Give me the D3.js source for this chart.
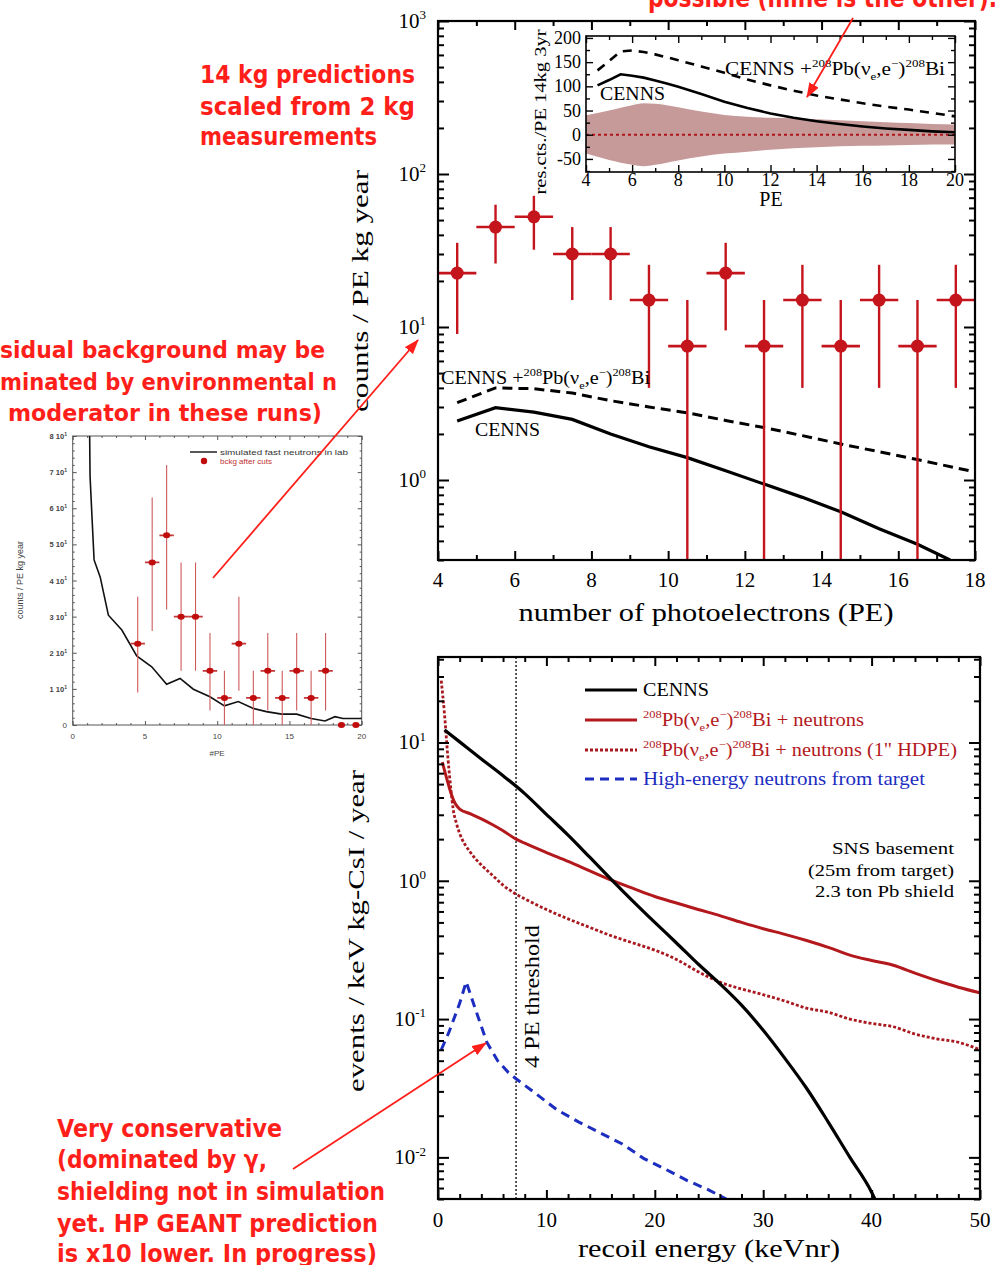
<!DOCTYPE html>
<html><head><meta charset="utf-8">
<script src="https://cdn.jsdelivr.net/npm/d3@7"></script>
<style>body{margin:0;background:#fff} svg{display:block}</style>
</head><body>
<svg id="c" width="1000" height="1265"></svg>
<script>
// ---------------- DATA ----------------
// measured background (2 kg, scaled) — used in main chart and small chart
const bkgPE  = [4.5,5.5,6.5,7.5,8.5,9.5,10.5,11.5,12.5,13.5,14.5,15.5,16.5,17.5];
const bkgVal = [22.5,45,52.5,30,30,15,7.5,22.5,7.5,15,7.5,15,7.5,15];
const bkgLo  = [9,26,32,15,15,4,0,9.5,0,4,0,4,0,4];
const bkgHi  = [35.5,63,72,45,45,25.5,15,35.5,15,25.5,15,25.5,15,25.5];
const bkgZeroPE = [18.6,19.6];
// simulated fast neutrons in lab (small chart)
const simPE  = [1.15,1.2,1.33,1.48,1.9,2.47,3.4,4.43,5.47,6.5,7.43,8.35,9.5,10.5,11.46,12.5,13.4,14.46,15.5,16.5,17.46,18.15,18.7,20];
const simVal = [90,69,58,45.7,41,30.4,26.3,19.1,16.1,11.3,12.9,9.9,7.8,5.3,6.5,4.6,3.7,3.0,3.0,1.8,1.1,2.3,1.8,1.8];
// main chart predictions (counts / PE kg year)
const mainPE    = [4.5,5.5,6.5,7.5,8.5,9.5,10.5,11.5,12.5,13.5,14.5,15.5,16.5,17.35];
const mainCenns = [2.43,2.97,2.78,2.49,2.0,1.65,1.40,1.15,0.94,0.77,0.62,0.48,0.38,0.30];
const mainDashPE = [4.5,5.5,6.5,7.5,8.5,9.5,10.5,11.5,12.5,13.5,14.5,15.5,16.5,17.5,18];
const mainDash   = [3.2,4.0,3.95,3.7,3.3,3.0,2.75,2.45,2.2,1.95,1.72,1.53,1.36,1.2,1.13];
// inset: residual counts / PE 14kg 3yr
const insPE    = [4.5,5,5.5,6,6.5,7,7.5,8,9,10,11,12,13,14,15,16,17,18,19,20];
const insCenns = [102,113,125,122,118,112,106,99,84,68,55,44,35,28,22,17,13,10,7,5];
const insDash  = [133,152,172,174,171,166,160,154,141,128,114,102,91,81,73,65,58,52,45,38];
const bandPE = [4,5,6,6.5,7,8,9,10,11,12,13,14,15,16,17,18,19,20];
const bandHi = [40,50,61,65,64,57,48,41,37,35,34,32,30,28,26,24,22,21];
const bandLo = [-39,-52,-62,-65,-62,-53,-45,-39,-35,-31,-28,-26,-24,-23,-22,-21,-20,-20];
// bottom chart: events / keV kg-CsI / year vs recoil energy
const cennsE = [0.6,2,4,6,8,10,12,14,16,18,20,22,24,26,28,30,32,34,36,38,40,40.3];
const cennsR = [12.3,10.1,7.6,5.75,4.27,3.02,2.14,1.48,1.02,0.71,0.5,0.355,0.25,0.18,0.126,0.083,0.052,0.0316,0.018,0.010,0.0056,0.005];
const pbE = [0.4,0.8,1.2,1.6,2,3,4,5,6,7.2,8,10,12,14,16,18,20,22,24,26,28,30,32,34,36,38,40,42,44,46,48,50];
const pbR = [7.2,5.5,4.3,3.6,3.3,3.05,2.8,2.55,2.3,2.0,1.87,1.6,1.38,1.18,1.01,0.88,0.77,0.69,0.62,0.56,0.5,0.45,0.41,0.37,0.33,0.29,0.265,0.245,0.215,0.19,0.17,0.155];
const hdpeE = [0.3,0.6,0.9,1.2,1.4,1.7,2,3,4,5,6,7.2,8,10,12,14,16,18,20,22,24,26,28,30,32,34,36,38,40,42,44,46,48,50];
const hdpeR = [28,16,8,4.5,3.3,2.6,2.2,1.6,1.3,1.1,0.93,0.80,0.74,0.62,0.53,0.46,0.40,0.355,0.315,0.27,0.22,0.185,0.165,0.15,0.135,0.12,0.112,0.10,0.093,0.088,0.078,0.072,0.068,0.06];
const hiE = [0.3,1,2,2.6,3.5,4.5,5.5,6.5,7.2,9,11,13,15,17,19,21,23,25,26.6];
const hiR = [0.06,0.08,0.13,0.186,0.115,0.068,0.05,0.041,0.037,0.029,0.022,0.018,0.015,0.0125,0.0098,0.0082,0.0068,0.0058,0.005];
const thresholdE = 7.2;
// tick values
const mainXMajor = [4,6,8,10,12,14,16,18];
const insXMajor = [4,6,8,10,12,14,16,18,20];
const insYMajor = [-50,0,50,100,150,200];
const botXMajor = [0,10,20,30,40,50];
const smallXMajor = [0,5,10,15,20];
const smallYMajor = [0,10,20,30,40,50,60,70,80];

// ---------------- HELPERS ----------------
const SERIF = "'Liberation Serif','Times New Roman',serif";
const SANS = "'Liberation Sans',Arial,sans-serif";
const ANN = "'DejaVu Sans',sans-serif";
const RED = '#ff1f1a';
const svg = d3.select('#c');
svg.append('rect').attr('width',1000).attr('height',1265).attr('fill','#fff');
const defs = svg.append('defs');
defs.append('marker').attr('id','arr').attr('viewBox','0 0 14 10').attr('refX',13).attr('refY',5)
  .attr('markerWidth',15).attr('markerHeight',11).attr('markerUnits','userSpaceOnUse').attr('orient','auto')
  .append('path').attr('d','M0,0L14,5L0,10Z').attr('fill',RED);

function rich(parent, x, y, parts, size, attrs={}, fam=SERIF) {
  const t = parent.append('text').attr('x',x).attr('y',y).attr('font-size',size).attr('font-family',fam);
  Object.entries(attrs).forEach(([k,v])=>t.attr(k,v));
  let cur = 0;
  parts.forEach(p=>{
    const [s,k] = Array.isArray(p)?p:[p,null];
    const target = k==='sup' ? -0.42*size : k==='sub' ? 0.3*size : 0;
    t.append('tspan').attr('dy', target-cur).attr('font-size', k ? Math.round(size*0.62) : size).text(s);
    cur = target;
  });
  return t;
}
function ticksOn(g, scale, orient, pos, values, len, sw, color='#000') {
  const f = {bottom:d3.axisBottom, top:d3.axisTop, left:d3.axisLeft, right:d3.axisRight}[orient];
  const ax = f(scale).tickValues(values).tickSize(-len).tickFormat('');
  const tr = (orient==='bottom'||orient==='top') ? `translate(0,${pos})` : `translate(${pos},0)`;
  const a = g.append('g').attr('transform',tr).call(ax);
  a.select('.domain').remove();
  a.selectAll('line').attr('stroke',color).attr('stroke-width',sw);
  return a;
}
function logMinor(dom){const o=[];for(let e=Math.floor(Math.log10(dom[0]));e<=Math.ceil(Math.log10(dom[1]));e++)for(let k=2;k<=9;k++){const v=k*Math.pow(10,e);if(v>=dom[0]*0.999&&v<=dom[1]*1.001)o.push(v);}return o;}
function logMajor(dom){const o=[];for(let e=Math.ceil(Math.log10(dom[0])-1e-9);e<=Math.floor(Math.log10(dom[1])+1e-9);e++)o.push(Math.pow(10,e));return o;}
function range(a,b,s){return d3.range(a,b+s/2,s);}
function clip(id,x,y,w,h){defs.append('clipPath').attr('id',id).append('rect').attr('x',x).attr('y',y).attr('width',w).attr('height',h);}

// ---------------- MAIN CHART (top right) ----------------
const M = {l:438, r:975, t:21, b:560};
const mx = d3.scaleLinear().domain([4,18]).range([M.l,M.r]);
const myDom = [0.3,1000];
const my = d3.scaleLog().domain(myDom).range([M.b,M.t]).clamp(true);
clip('cm', M.l, M.t, M.r-M.l, M.b-M.t);
const gm = svg.append('g');
const pm = gm.append('g').attr('clip-path','url(#cm)');
pm.append('path').attr('d', d3.line().x((d,i)=>mx(mainDashPE[i])).y(d=>my(d))(mainDash))
  .attr('fill','none').attr('stroke','#000').attr('stroke-width',3).attr('stroke-dasharray','10,6');
pm.append('path').attr('d', d3.line().x((d,i)=>mx(mainPE[i])).y(d=>my(d))(mainCenns))
  .attr('fill','none').attr('stroke','#000').attr('stroke-width',3.2);
const DR = '#c4141c';
pm.selectAll('line.v').data(bkgPE).join('line').attr('x1',d=>mx(d)).attr('x2',d=>mx(d))
  .attr('y1',(d,i)=>my(bkgHi[i])).attr('y2',(d,i)=>my(Math.max(bkgLo[i],0.01))).attr('stroke',DR).attr('stroke-width',2.4);
pm.selectAll('line.h').data(bkgPE).join('line').attr('x1',d=>mx(d-0.5)).attr('x2',d=>mx(d+0.5))
  .attr('y1',(d,i)=>my(bkgVal[i])).attr('y2',(d,i)=>my(bkgVal[i])).attr('stroke',DR).attr('stroke-width',2.6);
pm.selectAll('circle').data(bkgPE).join('circle').attr('cx',d=>mx(d)).attr('cy',(d,i)=>my(bkgVal[i])).attr('r',6.5).attr('fill',DR);
// frame & ticks
gm.append('rect').attr('x',M.l).attr('y',M.t).attr('width',M.r-M.l).attr('height',M.b-M.t).attr('fill','none').attr('stroke','#000').attr('stroke-width',2.2);
const mxMinor = range(5,17,2);
ticksOn(gm,mx,'bottom',M.b,mainXMajor,9,2); ticksOn(gm,mx,'bottom',M.b,mxMinor,5,2);
ticksOn(gm,mx,'top',M.t,mainXMajor,9,2); ticksOn(gm,mx,'top',M.t,mxMinor,5,2);
ticksOn(gm,my,'left',M.l,logMajor(myDom),11,2); ticksOn(gm,my,'left',M.l,logMinor(myDom),6,2);
ticksOn(gm,my,'right',M.r,logMajor(myDom),11,2); ticksOn(gm,my,'right',M.r,logMinor(myDom),6,2);
mainXMajor.forEach(v=>gm.append('text').attr('x',mx(v)).attr('y',587).attr('text-anchor','middle').attr('font-family',SERIF).attr('font-size',21).text(v));
logMajor(myDom).forEach(v=>rich(gm,426,my(v)+7,['10',[String(Math.round(Math.log10(v))),'sup']],21,{'text-anchor':'end'}));
gm.append('text').attr('x',706).attr('y',621).attr('text-anchor','middle').attr('font-family',SERIF).attr('font-size',25).attr('textLength',375).attr('lengthAdjust','spacingAndGlyphs').text('number of photoelectrons (PE)');
gm.append('text').attr('transform','translate(368,291) rotate(-90)').attr('text-anchor','middle').attr('font-family',SERIF).attr('font-size',24).attr('textLength',242).attr('lengthAdjust','spacingAndGlyphs').text('counts / PE kg year');
const PB = ['Pb(ν',['e','sub'],',e',['−','sup'],')',['208','sup'],'Bi'];
rich(gm,441,384,['CENNS +',['208','sup'],...PB],18,{textLength:209,lengthAdjust:'spacingAndGlyphs'});
rich(gm,475,436,['CENNS'],18,{textLength:65,lengthAdjust:'spacingAndGlyphs'});

// ---------------- INSET ----------------
const I = {l:586, r:955, t:36, b:172};
const ix = d3.scaleLinear().domain([4,20]).range([I.l,I.r]);
const iy = d3.scaleLinear().domain([-77,204]).range([I.b,I.t]);
clip('ci', I.l, I.t, I.r-I.l, I.b-I.t);
const gi = svg.append('g');
gi.append('rect').attr('x',I.l).attr('y',I.t).attr('width',I.r-I.l).attr('height',I.b-I.t).attr('fill','#fff');
const pi = gi.append('g').attr('clip-path','url(#ci)');
pi.append('path').attr('d', d3.area().x((d,i)=>ix(bandPE[i])).y0((d,i)=>iy(bandLo[i])).y1(d=>iy(d)).curve(d3.curveMonotoneX)(bandHi))
  .attr('fill','#c79a9a').attr('stroke','none');
pi.append('path').attr('d', d3.line().x(d=>ix(d)).y(()=>iy(0))([4,20]))
  .attr('stroke','#b0141a').attr('stroke-width',2.2).attr('stroke-dasharray','3,3').attr('fill','none');
pi.append('path').attr('d', d3.line().x((d,i)=>ix(insPE[i])).y(d=>iy(d))(insDash))
  .attr('fill','none').attr('stroke','#000').attr('stroke-width',2.6).attr('stroke-dasharray','9,7');
pi.append('path').attr('d', d3.line().x((d,i)=>ix(insPE[i])).y(d=>iy(d))(insCenns))
  .attr('fill','none').attr('stroke','#000').attr('stroke-width',2.6);
gi.append('rect').attr('x',I.l).attr('y',I.t).attr('width',I.r-I.l).attr('height',I.b-I.t).attr('fill','none').attr('stroke','#000').attr('stroke-width',1.6);
const ixMinor = range(5,19,2), iyMinor = [-75,-25,25,75,125,175];
ticksOn(gi,ix,'bottom',I.b,insXMajor,7,1.4); ticksOn(gi,ix,'bottom',I.b,ixMinor,4,1.4);
ticksOn(gi,ix,'top',I.t,insXMajor,7,1.4); ticksOn(gi,ix,'top',I.t,ixMinor,4,1.4);
ticksOn(gi,iy,'left',I.l,insYMajor,7,1.4); ticksOn(gi,iy,'left',I.l,iyMinor,4,1.4);
ticksOn(gi,iy,'right',I.r,insYMajor,7,1.4); ticksOn(gi,iy,'right',I.r,iyMinor,4,1.4);
insXMajor.forEach(v=>gi.append('text').attr('x',ix(v)).attr('y',186).attr('text-anchor','middle').attr('font-family',SERIF).attr('font-size',18).text(v));
insYMajor.forEach(v=>gi.append('text').attr('x',581).attr('y',iy(v)+6).attr('text-anchor','end').attr('font-family',SERIF).attr('font-size',18).text(String(v)));
gi.append('text').attr('x',771).attr('y',206).attr('text-anchor','middle').attr('font-family',SERIF).attr('font-size',20).text('PE');
gi.append('text').attr('transform','translate(546,112) rotate(-90)').attr('text-anchor','middle').attr('font-family',SERIF).attr('font-size',17).attr('textLength',165).attr('lengthAdjust','spacingAndGlyphs').text('res.cts./PE 14kg 3yr');
rich(gi,725,75,['CENNS +',['208','sup'],...PB],18,{textLength:220,lengthAdjust:'spacingAndGlyphs'});
rich(gi,600,100,['CENNS'],18,{textLength:65,lengthAdjust:'spacingAndGlyphs'});

// ---------------- BOTTOM CHART ----------------
const B = {l:438, r:980, t:657, b:1199};
const bx = d3.scaleLinear().domain([0,50]).range([B.l,B.r]);
const byDom = [0.005,41.5];
const by = d3.scaleLog().domain(byDom).range([B.b,B.t]).clamp(true);
clip('cb', B.l, B.t, B.r-B.l, B.b-B.t);
const gb = svg.append('g');
const pb = gb.append('g').attr('clip-path','url(#cb)');
pb.append('line').attr('x1',bx(thresholdE)).attr('x2',bx(thresholdE)).attr('y1',B.t).attr('y2',B.b).attr('stroke','#000').attr('stroke-width',1.3).attr('stroke-dasharray','2,2');
const BLUE='#1c2dbf', CRED='#b3181c';
const ln = (xs)=>d3.line().x((d,i)=>bx(xs[i])).y(d=>by(d)).curve(d3.curveMonotoneX);
pb.append('path').attr('d',d3.line().x((d,i)=>bx(hiE[i])).y(d=>by(d))(hiR)).attr('fill','none').attr('stroke',BLUE).attr('stroke-width',3).attr('stroke-dasharray','9,6');
pb.append('path').attr('d',ln(hdpeE)(hdpeR)).attr('fill','none').attr('stroke','#a8181e').attr('stroke-width',2.8).attr('stroke-dasharray','3,2');
pb.append('path').attr('d',ln(pbE)(pbR)).attr('fill','none').attr('stroke',CRED).attr('stroke-width',3);
pb.append('path').attr('d',ln(cennsE)(cennsR)).attr('fill','none').attr('stroke','#000').attr('stroke-width',3.2);
gb.append('rect').attr('x',B.l).attr('y',B.t).attr('width',B.r-B.l).attr('height',B.b-B.t).attr('fill','none').attr('stroke','#000').attr('stroke-width',2.2);
const bxMinor = range(0,50,2).filter(v=>v%10!==0);
ticksOn(gb,bx,'bottom',B.b,botXMajor,9,2); ticksOn(gb,bx,'bottom',B.b,bxMinor,5,2);
ticksOn(gb,bx,'top',B.t,botXMajor,9,2); ticksOn(gb,bx,'top',B.t,bxMinor,5,2);
ticksOn(gb,by,'left',B.l,logMajor(byDom),11,2); ticksOn(gb,by,'left',B.l,logMinor(byDom),6,2);
ticksOn(gb,by,'right',B.r,logMajor(byDom),11,2); ticksOn(gb,by,'right',B.r,logMinor(byDom),6,2);
botXMajor.forEach(v=>gb.append('text').attr('x',bx(v)).attr('y',1227).attr('text-anchor','middle').attr('font-family',SERIF).attr('font-size',21).text(v));
logMajor(byDom).forEach(v=>rich(gb,426,by(v)+7,['10',[String(Math.round(Math.log10(v))),'sup']],21,{'text-anchor':'end'}));
gb.append('text').attr('x',709).attr('y',1257).attr('text-anchor','middle').attr('font-family',SERIF).attr('font-size',25).attr('textLength',262).attr('lengthAdjust','spacingAndGlyphs').text('recoil energy (keVnr)');
gb.append('text').attr('transform','translate(364,931) rotate(-90)').attr('text-anchor','middle').attr('font-family',SERIF).attr('font-size',24).attr('textLength',322).attr('lengthAdjust','spacingAndGlyphs').text('events / keV kg-CsI / year');
gb.append('text').attr('transform',`translate(${bx(thresholdE)+23},1068) rotate(-90)`).attr('font-family',SERIF).attr('font-size',20).attr('textLength',143).attr('lengthAdjust','spacingAndGlyphs').text('4 PE threshold');
// legend
const legY = [690,720,750,779];
const legStyle = [['#000',3,null],[CRED,3,null],['#a8181e',2.8,'3,2'],[BLUE,3,'9,6']];
legY.forEach((y,i)=>{const [c,w,da]=legStyle[i];const l=gb.append('line').attr('x1',585).attr('x2',637).attr('y1',y).attr('y2',y).attr('stroke',c).attr('stroke-width',w);if(da)l.attr('stroke-dasharray',da);});
rich(gb,643,legY[0]+6,['CENNS'],18,{textLength:66,lengthAdjust:'spacingAndGlyphs'});
rich(gb,643,legY[1]+6,[['208','sup'],...PB,' + neutrons'],18,{fill:CRED,textLength:221,lengthAdjust:'spacingAndGlyphs'});
rich(gb,643,legY[2]+6,[['208','sup'],...PB,' + neutrons (1" HDPE)'],18,{fill:CRED,textLength:314,lengthAdjust:'spacingAndGlyphs'});
rich(gb,643,legY[3]+6,['High-energy neutrons from target'],18,{fill:BLUE,textLength:282,lengthAdjust:'spacingAndGlyphs'});
[['SNS basement',854,122],['(25m from target)',876,146],['2.3 ton Pb shield',897,139]].forEach(([s,y,w])=>
  gb.append('text').attr('x',954).attr('y',y).attr('text-anchor','end').attr('font-family',SERIF).attr('font-size',17).attr('textLength',w).attr('lengthAdjust','spacingAndGlyphs').text(s));

// ---------------- SMALL CHART (left) ----------------
const S = {l:72.7, r:361.7, t:436, b:725};
const sx = d3.scaleLinear().domain([0,20]).range([S.l,S.r]);
const sy = d3.scaleLinear().domain([0,80]).range([S.b,S.t]);
clip('cs', S.l, S.t, S.r-S.l, S.b-S.t);
const gs = svg.append('g');
gs.append('rect').attr('x',S.l).attr('y',S.t).attr('width',S.r-S.l).attr('height',S.b-S.t).attr('fill','#fff').attr('stroke','#555').attr('stroke-width',1);
ticksOn(gs,sx,'bottom',S.b,smallXMajor,4,1,'#555'); ticksOn(gs,sx,'bottom',S.b,range(1,19,1).filter(v=>v%5),2,1,'#555');
ticksOn(gs,sx,'top',S.t,smallXMajor,4,1,'#555'); ticksOn(gs,sx,'top',S.t,range(1,19,1).filter(v=>v%5),2,1,'#555');
ticksOn(gs,sy,'left',S.l,smallYMajor,4,1,'#555'); ticksOn(gs,sy,'left',S.l,range(2,78,2).filter(v=>v%10),2,1,'#555');
ticksOn(gs,sy,'right',S.r,smallYMajor,4,1,'#555'); ticksOn(gs,sy,'right',S.r,range(2,78,2).filter(v=>v%10),2,1,'#555');
const ps = gs.append('g').attr('clip-path','url(#cs)');
ps.append('path').attr('d',d3.line().x((d,i)=>sx(simPE[i])).y(d=>sy(d))(simVal)).attr('fill','none').attr('stroke','#111').attr('stroke-width',1.6);
ps.selectAll('line.v').data(bkgPE).join('line').attr('x1',d=>sx(d)).attr('x2',d=>sx(d)).attr('y1',(d,i)=>sy(bkgHi[i])).attr('y2',(d,i)=>sy(bkgLo[i])).attr('stroke','#cf5a5a').attr('stroke-width',1.1);
ps.selectAll('line.h').data(bkgPE).join('line').attr('x1',d=>sx(d-0.5)).attr('x2',d=>sx(d+0.5)).attr('y1',(d,i)=>sy(bkgVal[i])).attr('y2',(d,i)=>sy(bkgVal[i])).attr('stroke','#c43a3a').attr('stroke-width',1.8);
ps.selectAll('ellipse.p').data(bkgPE).join('ellipse').attr('cx',d=>sx(d)).attr('cy',(d,i)=>sy(bkgVal[i])).attr('rx',3.6).attr('ry',3).attr('fill','#c00c0c');
gs.selectAll('ellipse.z').data(bkgZeroPE).join('ellipse').attr('cx',d=>sx(d)).attr('cy',sy(0)).attr('rx',3.6).attr('ry',3).attr('fill','#c00c0c');
smallXMajor.forEach(v=>gs.append('text').attr('x',sx(v)).attr('y',739).attr('text-anchor','middle').attr('font-family',SANS).attr('font-size',8).attr('fill','#444').text(v));
smallYMajor.forEach(v=>{ if(v===0) gs.append('text').attr('x',67).attr('y',sy(0)+3).attr('text-anchor','end').attr('font-family',SANS).attr('font-size',8).attr('fill','#444').text('0');
  else rich(gs,67,sy(v)+3,[`${v/10} 10`,['1','sup']],7.5,{'text-anchor':'end',fill:'#444','font-weight':'bold'},SANS); });
gs.append('text').attr('x',217).attr('y',756).attr('text-anchor','middle').attr('font-family',SANS).attr('font-size',8).attr('fill','#444').text('#PE');
gs.append('text').attr('transform','translate(23,580) rotate(-90)').attr('text-anchor','middle').attr('font-family',SANS).attr('font-size',9).attr('fill','#444').text('counts / PE kg year');
gs.append('line').attr('x1',190).attr('x2',217).attr('y1',452).attr('y2',452).attr('stroke','#111').attr('stroke-width',1.4);
gs.append('text').attr('x',220).attr('y',455).attr('font-family',SANS).attr('font-size',8).attr('fill','#333').attr('textLength',128).attr('lengthAdjust','spacingAndGlyphs').text('simulated fast neutrons in lab');
gs.append('circle').attr('cx',204).attr('cy',461).attr('r',3.2).attr('fill','#c00c0c');
gs.append('text').attr('x',220).attr('y',464).attr('font-family',SANS).attr('font-size',8).attr('fill','#c03030').text('bckg after cuts');

// ---------------- ANNOTATIONS ----------------
const ga = svg.append('g').attr('fill',RED).attr('font-family',ANN).attr('font-weight','bold');
function ann(s,x,y,w,size){ga.append('text').attr('x',x).attr('y',y).attr('font-size',size).attr('textLength',w).attr('lengthAdjust','spacingAndGlyphs').text(s);}
ann('possible (mine is the other).',648,7,349,26);
ann('14 kg predictions',200,83,215,24);
ann('scaled from 2 kg',200,115,215,24);
ann('measurements',200,145,177,24);
ann('sidual background may be',0,358,325,23);
ann('minated by environmental n',0,390,337,23);
ann('moderator in these runs)',8,421,314,23);
ann('Very conservative',57,1137,225,24);
ann('(dominated by γ,',57,1168,210,24);
ann('shielding not in simulation',57,1200,328,24);
ann('yet. HP GEANT prediction',57,1232,321,24);
ann('is x10 lower. In progress)',57,1262,320,24);
const arrows = [[853,18,807,97],[213,578,418,340],[293,1169,486,1043]];
arrows.forEach(([x1,y1,x2,y2])=>svg.append('line').attr('x1',x1).attr('y1',y1).attr('x2',x2).attr('y2',y2).attr('stroke',RED).attr('stroke-width',1.8).attr('marker-end','url(#arr)'));
</script></body></html>
